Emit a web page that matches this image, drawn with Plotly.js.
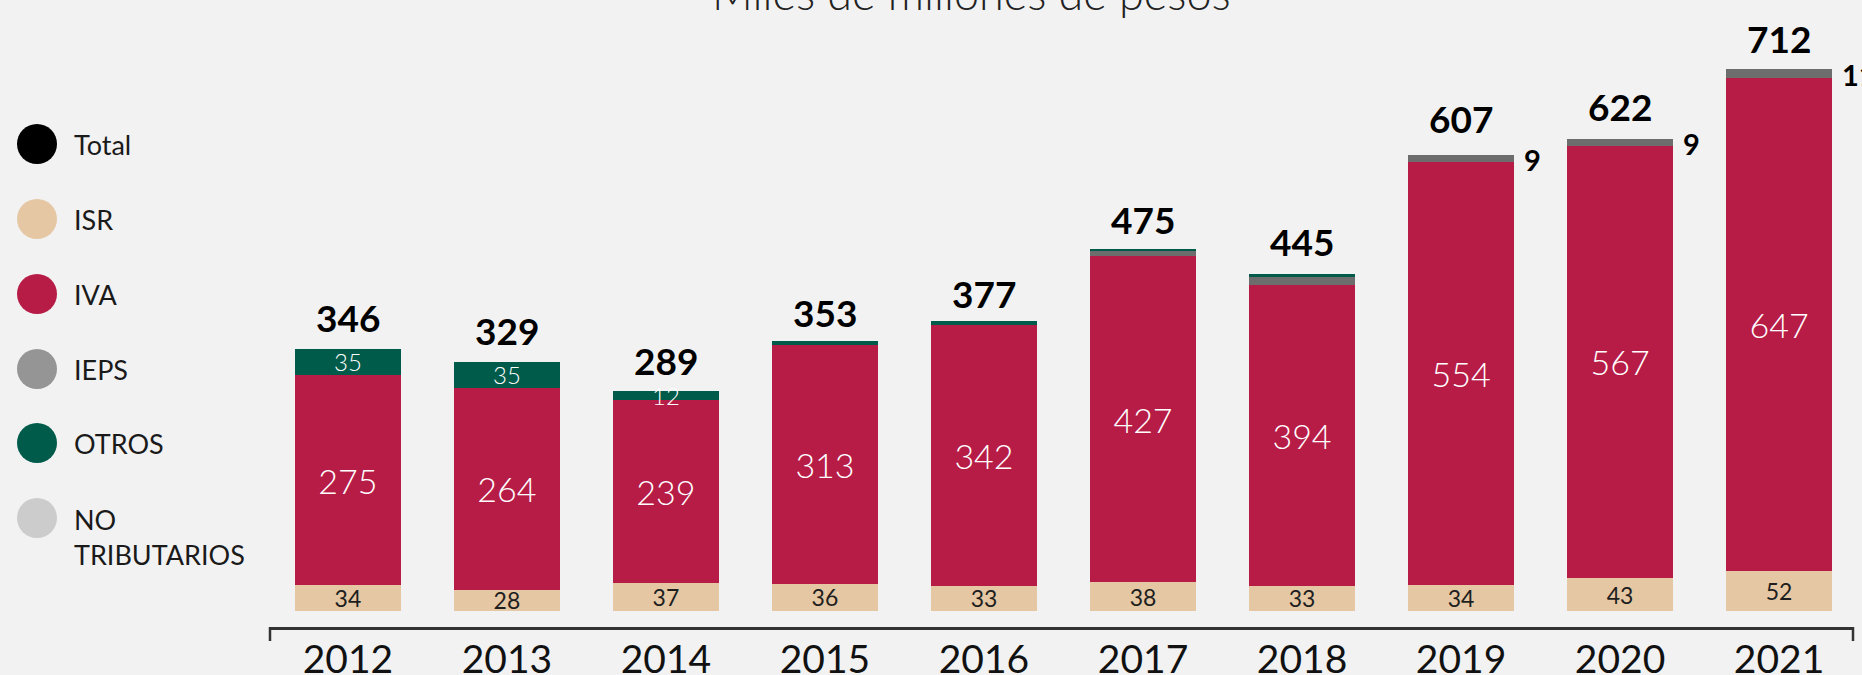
<!DOCTYPE html>
<html>
<head>
<meta charset="utf-8">
<script src="https://cdn.plot.ly/plotly-3.0.1.min.js"></script>
<style>
  html, body { margin: 0; padding: 0; background: #F2F2F2; }
  #chart { width: 1862px; height: 675px; }
</style>
</head>
<body>
<div id="chart"></div>
<script>
// ---- data ----
const years = ['2012', '2013', '2014', '2015', '2016', '2017', '2018', '2019', '2020', '2021'];
const isr = [34, 28, 37, 36, 33, 38, 33, 34, 43, 52];
const iva = [275, 264, 239, 313, 342, 427, 394, 554, 567, 647];
const ieps = [0, 0, 0, 0, 0, 7, 11, 9, 9, 11];
const otros = [35, 35, 12, 5, 5, 3, 4, 0, 0, 0];
const total = [346, 329, 289, 353, 377, 475, 445, 607, 622, 712];
const otrosLabel = ['35', '35', '12', '', '', '', '', '', '', ''];
const iepsLabel = [null, null, null, null, null, null, null, '9', '9', '11'];
const seriesNames = ['Total', 'ISR', 'IVA', 'IEPS', 'OTROS', 'NO<br>TRIBUTARIOS'];
const title = 'Miles de millones de pesos';

// ---- style ----
const FONT = 'Lato, "Open Sans", sans-serif';
const colors = { isr: '#E5C7A3', iva: '#B71C47', ieps: '#6D6D6D', otros: '#005B4B' };
const legendColors = ['#000000', '#E5C7A3', '#B71C47', '#959595', '#005B4B', '#CCCCCC'];

const W = 1862, H = 675;
const M = { l: 270, r: 9, t: 40, b: 48 };
const plotW = W - M.l - M.r, plotH = H - M.t - M.b;
const px = x => (x - M.l) / plotW;
const py = y => (H - M.b - y) / plotH;

const barW = 0.67;
const common = { type: 'bar', x: years, width: barW, hoverinfo: 'skip',
  textposition: 'inside', insidetextanchor: 'middle', constraintext: 'none', textangle: 0, cliponaxis: false };

const traces = [
  Object.assign({}, common, { name: 'ISR', y: isr, text: isr.map(String),
    marker: { color: colors.isr },
    textfont: { family: FONT, size: 23, color: '#1E1E1E', weight: 400 } }),
  Object.assign({}, common, { name: 'IVA', y: iva, text: iva.map(String),
    marker: { color: colors.iva },
    textfont: { family: FONT, size: 34, color: '#FFFFFF', weight: 300 } }),
  Object.assign({}, common, { name: 'IEPS', y: ieps, text: ieps.map(() => ''),
    marker: { color: colors.ieps } }),
  Object.assign({}, common, { name: 'OTROS', y: otros, text: otrosLabel,
    marker: { color: colors.otros },
    textfont: { family: FONT, size: 24, color: '#FFFFFF', weight: 300 } })
];

const annotations = [];
// totals and IEPS side labels (x = category index)
years.forEach((yr, i) => {
  annotations.push({ x: i, y: total[i], xref: 'x', yref: 'y', text: '<b>' + total[i] + '</b>',
    showarrow: false, yanchor: 'bottom', yshift: 5,
    font: { family: FONT, size: 37, color: '#000000' } });
  if (iepsLabel[i] !== null) {
    annotations.push({ x: i, y: isr[i] + iva[i] + ieps[i] / 2, xref: 'x', yref: 'y',
      text: '<b>' + iepsLabel[i] + '</b>', showarrow: false, xanchor: 'left', xshift: 61, yshift: -1,
      font: { family: FONT, size: 29, color: '#000000' } });
  }
});
// title
annotations.push({ x: px(971), y: py(22), xref: 'paper', yref: 'paper', text: title,
  showarrow: false, yanchor: 'bottom', xanchor: 'center',
  font: { family: FONT, size: 45, color: '#222222', weight: 300 } });

// legend (circles + labels)
const legY = [144, 219, 294, 369, 443, 518];
const shapes = [];
seriesNames.forEach((nm, i) => {
  shapes.push({ type: 'circle', xref: 'paper', yref: 'paper',
    x0: px(17), x1: px(57), y0: py(legY[i] + 20), y1: py(legY[i] - 20),
    fillcolor: legendColors[i], line: { width: 0 } });
  const multi = nm.indexOf('<br>') >= 0;
  annotations.push({ x: px(72), y: multi ? py(legY[i] - 17) : py(legY[i]), xref: 'paper', yref: 'paper',
    text: nm, showarrow: false, xanchor: 'left', yanchor: multi ? 'top' : 'middle', align: 'left',
    font: { family: FONT, size: 27, color: '#1A1A1A' } });
});
// bracket ends of axis
shapes.push({ type: 'line', xref: 'paper', yref: 'paper', x0: 0, x1: 0, y0: 0, y1: py(641),
  line: { color: '#333333', width: 2.5 } });
shapes.push({ type: 'line', xref: 'paper', yref: 'paper', x0: 1, x1: 1, y0: 0, y1: py(641),
  line: { color: '#333333', width: 2.5 } });

const pxPerUnit = 0.763;
const y0 = -(16 / pxPerUnit);
const y1 = y0 + plotH / pxPerUnit;

const layout = {
  width: W, height: H,
  margin: M,
  paper_bgcolor: '#F2F2F2', plot_bgcolor: '#F2F2F2',
  barmode: 'stack',
  showlegend: false,
  font: { family: FONT },
  xaxis: { type: 'category', range: [-0.49, 9.465], showline: true, linecolor: '#333333', linewidth: 3,
    ticks: '', showgrid: false, zeroline: false, ticklabelstandoff: -4,
    tickfont: { family: FONT, size: 39, color: '#111111', weight: 400 } },
  yaxis: { range: [y0, y1], visible: false, showgrid: false, zeroline: false },
  annotations: annotations,
  shapes: shapes
};

Plotly.newPlot('chart', traces, layout, { staticPlot: true, displayModeBar: false });
</script>
</body>
</html>
